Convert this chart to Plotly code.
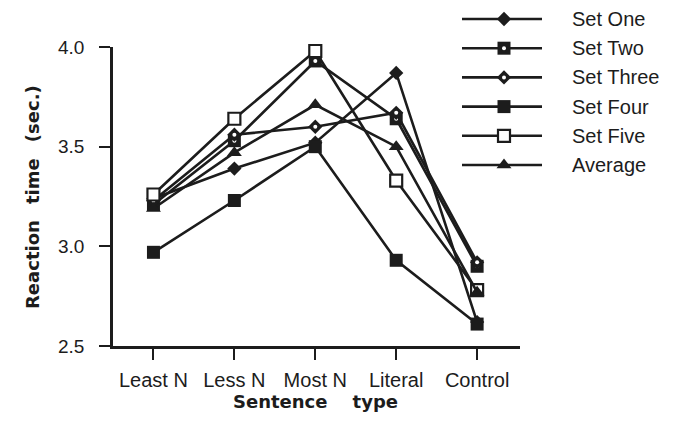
import plotly.graph_objects as go

# ---- data ----
categories = ["Least N", "Less N", "Most N", "Literal", "Control"]
set_one = [3.24, 3.39, 3.52, 3.87, 2.62]
set_two = [3.21, 3.53, 3.93, 3.64, 2.90]
set_three = [3.23, 3.56, 3.60, 3.67, 2.92]
set_four = [2.97, 3.23, 3.50, 2.93, 2.61]
set_five = [3.26, 3.64, 3.98, 3.33, 2.78]
average = [3.19, 3.47, 3.71, 3.50, 2.77]
series_names = ["Set One", "Set Two", "Set Three", "Set Four", "Set Five", "Average"]
y_ticks = [2.5, 3.0, 3.5, 4.0]

W, H = 675, 423
INK = "#1c1c1c"
FONT = "Liberation Sans, Arial, Helvetica, sans-serif"
BOLD = "DejaVu Sans, Verdana, sans-serif"
CLEAR = "rgba(0,0,0,0)"

series = [set_one, set_two, set_three, set_four, set_five, average]
styles = [
    dict(symbol="diamond", size=11, color=INK, line=dict(width=0), dot=False),
    dict(symbol="square", size=13, color=INK, line=dict(width=0), dot=True),
    dict(symbol="diamond", size=11, color=INK, line=dict(width=0), dot=True),
    dict(symbol="square", size=13, color=INK, line=dict(width=0), dot=False),
    dict(symbol="square", size=12, color="white", line=dict(width=2.2, color=INK), dot=False),
    dict(symbol="triangle-up", size=13, color=INK, line=dict(width=0), dot=False),
]

x_idx = list(range(len(categories)))
fig = go.Figure()

for name, vals, st in zip(series_names, series, styles):
    fig.add_trace(go.Scatter(
        x=x_idx, y=vals, mode="lines+markers", name=name,
        line=dict(color=INK, width=2.6),
        marker=dict(symbol=st["symbol"], size=st["size"], color=st["color"], line=st["line"]),
        cliponaxis=False, showlegend=False))
    if st["dot"]:
        fig.add_trace(go.Scatter(
            x=x_idx, y=vals, mode="markers",
            marker=dict(symbol="circle", size=4, color="white"),
            cliponaxis=False, showlegend=False, hoverinfo="skip"))

# ---- hand-drawn legend on a pixel-space overlay axis ----
row0, row_gap = 19, 29.2
x_line0, x_line1, x_mark, x_text = 462, 542, 504, 570
for i, (name, st) in enumerate(zip(series_names, styles)):
    yy = row0 + row_gap * i
    fig.add_trace(go.Scatter(
        x=[x_line0, x_line1], y=[yy, yy], mode="lines",
        line=dict(color=INK, width=2.6), xaxis="x2", yaxis="y2",
        showlegend=False, hoverinfo="skip", cliponaxis=False))
    fig.add_trace(go.Scatter(
        x=[x_mark], y=[yy], mode="markers",
        marker=dict(symbol=st["symbol"], size=st["size"], color=st["color"], line=st["line"]),
        xaxis="x2", yaxis="y2", showlegend=False, hoverinfo="skip", cliponaxis=False))
    if st["dot"]:
        fig.add_trace(go.Scatter(
            x=[x_mark], y=[yy], mode="markers",
            marker=dict(symbol="circle", size=4, color="white"),
            xaxis="x2", yaxis="y2", showlegend=False, hoverinfo="skip", cliponaxis=False))
    fig.add_annotation(x=x_text, y=yy, xref="x2", yref="y2", text=name,
                       showarrow=False, xanchor="left", yanchor="middle",
                       font=dict(family=FONT, size=20, color=INK))

# plot area in pixels
L, R, T, B = 113, 520, 47, 346

fig.update_layout(
    width=W, height=H,
    margin=dict(l=0, r=0, t=0, b=0, pad=0),
    paper_bgcolor="white", plot_bgcolor=CLEAR,
    showlegend=False,
    xaxis=dict(
        domain=[L / W, R / W], range=[-0.5, 4.53], automargin=False,
        tickmode="array", tickvals=x_idx, ticktext=categories,
        showline=True, linecolor=INK, linewidth=2.5,
        ticks="outside", ticklen=11, tickwidth=2.2, tickcolor=INK,
        showgrid=False, zeroline=False, ticklabelstandoff=3,
        tickfont=dict(family=FONT, size=20, color=INK),
    ),
    yaxis=dict(
        domain=[1 - B / H, 1 - T / H], range=[2.5, 4.0], automargin=False,
        tickmode="array", tickvals=y_ticks, ticktext=[f"{v:.1f}" for v in y_ticks],
        showline=True, linecolor=INK, linewidth=2.5,
        ticks="outside", ticklen=11, tickwidth=2.2, tickcolor=INK,
        showgrid=False, zeroline=False, ticklabelstandoff=11,
        tickfont=dict(family=FONT, size=19, color=INK),
    ),
    xaxis2=dict(domain=[0, 1], range=[0, W], visible=False, anchor="y2",
                fixedrange=True, automargin=False),
    yaxis2=dict(domain=[0, 1], range=[H, 0], visible=False, anchor="x2",
                fixedrange=True, automargin=False),
)

sp = "\u00a0"
gap = "\u00a0\u00a0\u2009"
fig.add_annotation(x=315 / W, y=1 - 401 / H, xref="paper", yref="paper",
                   text=f"Sentence{sp*4}type", showarrow=False,
                   xanchor="center", yanchor="middle",
                   font=dict(family=BOLD, size=18, color=INK, weight="bold"))
fig.add_annotation(x=32 / W, y=1 - 197 / H, xref="paper", yref="paper",
                   text=f"Reaction{gap}time{gap}(sec.)", showarrow=False, textangle=-90,
                   xanchor="center", yanchor="middle",
                   font=dict(family=BOLD, size=18, color=INK, weight="bold"))

fig.write_html("out.html", config={"displayModeBar": False},
               post_script="document.body.style.margin='0';")
